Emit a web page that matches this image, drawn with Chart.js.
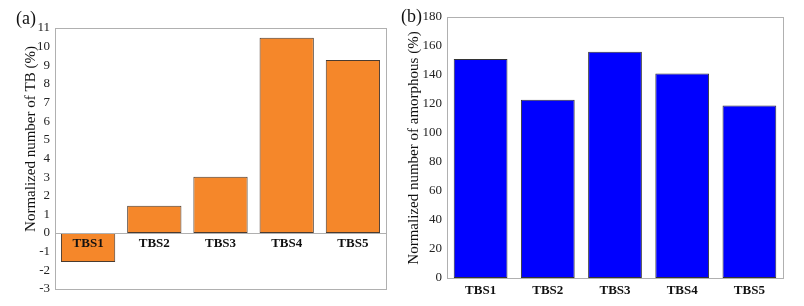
<!DOCTYPE html>
<html>
<head>
<meta charset="utf-8">
<script src="https://cdn.jsdelivr.net/npm/chart.js@4/dist/chart.umd.min.js"></script>
<style>
	body { margin: 0; background: #fff; }
	.wrap { position: absolute; top: 0; height: 306px; }
	#wa { left: 0; width: 400px; }
	#wb { left: 400px; width: 404px; }
</style>
</head>
<body>
<div class="wrap" id="wa"><canvas id="chartA"></canvas></div>
<div class="wrap" id="wb"><canvas id="chartB"></canvas></div>
<script>
var samples = ['TBS1', 'TBS2', 'TBS3', 'TBS4', 'TBS5'];
var tbValues = [-1.55, 1.47, 3.02, 10.48, 9.28];
var amorphousValues = [151, 123, 156, 141, 119];

var serif = "'Liberation Serif', 'Times New Roman', serif";
Chart.defaults.font.family = serif;
Chart.defaults.color = '#222';
Chart.defaults.animation = false;

// frame round the plot + panel letter + y title
var framePlugin = {
	id: 'frame',
	afterDraw: function (chart, args, opts) {
		var ctx = chart.ctx;
		var a = chart.chartArea;
		ctx.save();
		ctx.strokeStyle = '#b0b0b0';
		ctx.lineWidth = 1;
		ctx.strokeRect(a.left + 0.5, a.top + 0.5, a.right - a.left, a.bottom - a.top);
		ctx.fillStyle = '#111';
		ctx.font = '18px ' + serif;
		ctx.textBaseline = 'middle';
		ctx.textAlign = 'left';
		ctx.fillText(opts.letter, opts.letterX, opts.letterY);
		ctx.translate(opts.titleX, opts.titleY);
		ctx.rotate(-Math.PI / 2);
		ctx.font = '15px ' + serif;
		ctx.textAlign = 'center';
		ctx.fillText(opts.title, 0, 0);
		ctx.restore();
	}
};

function yFit(w) {
	return function (scale) { scale.width = w; };
}

new Chart(document.getElementById('chartA'), {
	type: 'bar',
	plugins: [framePlugin],
	data: {
		labels: samples,
		datasets: [{
			data: tbValues,
			backgroundColor: '#F5872A',
			borderColor: '#4a3b30',
			borderWidth: 1,
			borderSkipped: false,
			categoryPercentage: 0.82,
			barPercentage: 1
		}]
	},
	options: {
		responsive: true,
		maintainAspectRatio: false,
		layout: { padding: { top: 28, right: 14, bottom: 17, left: 0 } },
		plugins: {
			legend: { display: false },
			tooltip: { enabled: false },
			frame: { letter: '(a)', letterX: 16, letterY: 19, title: 'Normalized number of TB (%)', titleX: 31, titleY: 139 }
		},
		scales: {
			x: {
				position: { y: 0 },
				grid: { display: false, drawTicks: false },
				border: { color: '#b0b0b0', z: 1 },
				ticks: { z: 1, font: { size: 13, weight: 'bold' }, color: '#111', padding: 3 }
			},
			y: {
				min: -3,
				max: 11,
				afterFit: yFit(55),
				grid: { display: false, drawTicks: false },
				border: { color: '#b0b0b0' },
				ticks: { stepSize: 1, font: { size: 13 }, color: '#222', padding: 5 }
			}
		}
	}
});

new Chart(document.getElementById('chartB'), {
	type: 'bar',
	plugins: [framePlugin],
	data: {
		labels: samples,
		datasets: [{
			data: amorphousValues,
			backgroundColor: '#0000FF',
			borderColor: '#333333',
			borderWidth: 1,
			borderSkipped: false,
			categoryPercentage: 0.8,
			barPercentage: 1
		}]
	},
	options: {
		responsive: true,
		maintainAspectRatio: false,
		layout: { padding: { top: 17, right: 21, bottom: 0, left: 0 } },
		plugins: {
			legend: { display: false },
			tooltip: { enabled: false },
			frame: { letter: '(b)', letterX: 1, letterY: 17, title: 'Normalized number of amorphous (%)', titleX: 14, titleY: 148 }
		},
		scales: {
			x: {
				afterFit: function (scale) { scale.height = 28; },
				grid: { display: false, drawTicks: false },
				border: { color: '#b0b0b0' },
				ticks: { font: { size: 13, weight: 'bold' }, color: '#111', padding: 5 }
			},
			y: {
				min: 0,
				max: 180,
				afterFit: yFit(47),
				grid: { display: false, drawTicks: false },
				border: { color: '#b0b0b0' },
				ticks: { stepSize: 20, font: { size: 13 }, color: '#222', padding: 5 }
			}
		}
	}
});
</script>
</body>
</html>
